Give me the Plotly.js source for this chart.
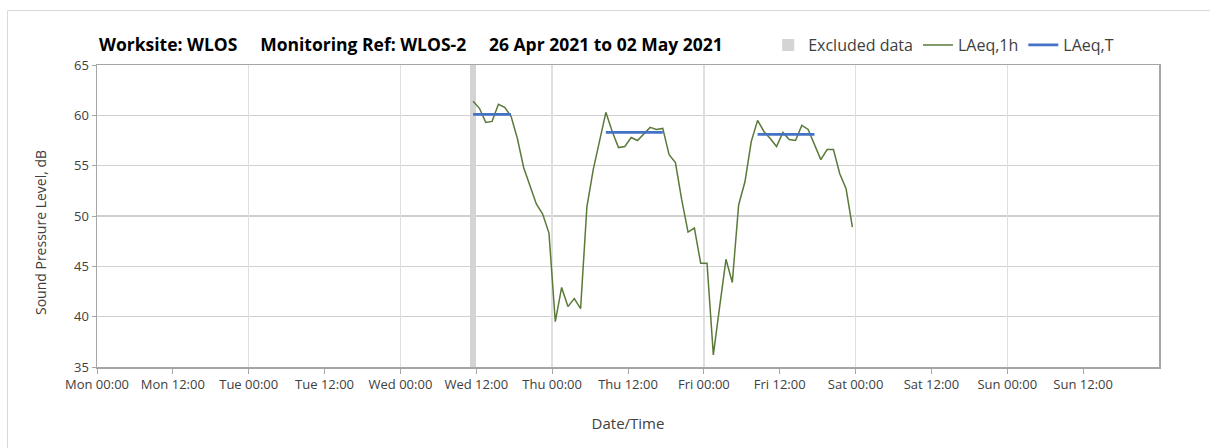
<!DOCTYPE html>
<html>
<head>
<meta charset="utf-8">
<script src="https://cdn.plot.ly/plotly-3.0.1.min.js"></script>
<style>
html,body{margin:0;padding:0;background:#fff;overflow:hidden;}
#chart{width:1210px;height:448px;}
</style>
</head>
<body>
<div id="chart"></div>
<script>
// ---- data ----
const seriesStart = '2021-04-28T11:30:00';   // first hourly LAeq,1h value (Wed 11:30)
const laeq1h = [
  61.4, 60.7, 59.3, 59.4, 61.1, 60.8, 59.9, 57.7, 54.8, 53.1,
  51.2, 50.2, 48.3, 39.5, 42.9, 41.0, 41.8, 40.8, 50.9, 54.6,
  57.6, 60.3, 58.4, 56.8, 56.9, 57.8, 57.5, 58.1, 58.8, 58.6,
  58.7, 56.1, 55.3, 51.6, 48.4, 48.8, 45.3, 45.3, 36.2, 41.0,
  45.7, 43.4, 51.1, 53.4, 57.4, 59.5, 58.4, 57.7, 56.9, 58.3,
  57.6, 57.5, 59.0, 58.6, 57.1, 55.6, 56.6, 56.6, 54.2, 52.7,
  48.9
];
const laeqTStart = ['2021-04-28T11:30:00', '2021-04-29T08:30:00', '2021-04-30T08:30:00'];
const laeqTEnd   = ['2021-04-28T17:30:00', '2021-04-29T17:30:00', '2021-04-30T17:30:00'];
const laeqTValue = [60.1, 58.3, 58.1];
const excludedTime = ['2021-04-28T11:30:00'];
const excludedHours = [1];
const axisRange = ['2021-04-26T00:00:00', '2021-05-03T00:00:00'];
const tickLabels = ['Mon 00:00','Mon 12:00','Tue 00:00','Tue 12:00','Wed 00:00','Wed 12:00','Thu 00:00',
                    'Thu 12:00','Fri 00:00','Fri 12:00','Sat 00:00','Sat 12:00','Sun 00:00','Sun 12:00'];
const yRange = [35, 65];

// ---- build ----
const HOUR = 3600000;
function fmt(ms){
  const d = new Date(ms);
  const p = n => String(n).padStart(2,'0');
  return d.getUTCFullYear()+'-'+p(d.getUTCMonth()+1)+'-'+p(d.getUTCDate())+'T'+p(d.getUTCHours())+':'+p(d.getUTCMinutes())+':00';
}
const t0 = Date.parse(seriesStart + 'Z');
const times = laeq1h.map((v,i) => fmt(t0 + i*HOUR));
const a0 = Date.parse(axisRange[0] + 'Z');
const tickVals = tickLabels.map((s,i) => fmt(a0 + i*12*HOUR));

const tx = [], ty = [];
laeqTValue.forEach((v,i) => {
  tx.push(laeqTStart[i], laeqTEnd[i], null);
  ty.push(v, v, null);
});

const font = 'Open Sans, Lato, sans-serif';
const textCol = '#404040';

const traces = [
  {
    type: 'bar', name: 'Excluded data',
    x: excludedTime, y: excludedHours.map(() => yRange[1]-yRange[0]), base: yRange[0],
    width: excludedHours.map(h => h*HOUR),
    marker: {color: '#d4d4d4', line: {width: 0}},
    hoverinfo: 'skip'
  },
  {
    type: 'scatter', mode: 'lines', name: 'LAeq,1h',
    x: times, y: laeq1h,
    line: {color: '#5a7a3a', width: 1.5}
  },
  {
    type: 'scatter', mode: 'lines', name: 'LAeq,T',
    x: tx, y: ty, xaxis: 'x2',
    line: {color: '#4472c4', width: 2.75},
    connectgaps: false
  }
];

const sp = n => '\u00a0'.repeat(n);
// pixel -> paper helpers for the chart frame
const PL = 97, PW = 1062, PT = 65, PH = 302;
const px = v => (v - PL) / PW;
const py = v => (PT + PH - v) / PH;

const layout = {
  width: 1210, height: 448,
  margin: {l: 97, r: 51, t: 65, b: 81},
  paper_bgcolor: '#fff', plot_bgcolor: '#fff',
  font: {family: font, color: textCol},
  showlegend: true,
  title: {
    text: 'Worksite: WLOS' + sp(5) + 'Monitoring Ref: WLOS-2' + sp(5) + '26 Apr 2021 to 02 May 2021',
    font: {family: font, size: 17.5, color: '#000', weight: 'bold'},
    xref: 'paper', x: px(99), xanchor: 'left',
    yref: 'container', y: 1 - 45/448, yanchor: 'middle'
  },
  legend: {
    orientation: 'h', x: 0.632, xanchor: 'left', y: 1.066, yanchor: 'middle',
    font: {family: font, size: 16, color: textCol},
    bgcolor: 'rgba(0,0,0,0)', traceorder: 'normal'
  },
  bargap: 0,
  xaxis: {
    type: 'date', range: axisRange, fixedrange: true,
    tickmode: 'array', tickvals: tickVals, ticktext: tickLabels,
    ticks: 'outside', ticklen: 5, tickcolor: '#a6a6a6', tickwidth: 1,
    showgrid: false, zeroline: false,
    showline: true, linecolor: '#a6a6a6', linewidth: 1.5, mirror: true,
    tickfont: {family: font, size: 13, color: textCol},
    title: {text: 'Date/Time', font: {family: font, size: 15, color: textCol}, standoff: 26}
  },
  xaxis2: {
    type: 'date', range: axisRange, fixedrange: true, overlaying: 'x', anchor: 'y', side: 'bottom',
    tick0: axisRange[0], dtick: 24*HOUR,
    showgrid: true, gridcolor: '#e0e0e0', gridwidth: 1.3,
    showticklabels: false, ticks: '', showline: false, zeroline: false
  },
  yaxis: {
    range: yRange, fixedrange: true, dtick: 5, tick0: 35,
    ticks: 'outside', ticklen: 4, tickcolor: '#a6a6a6',
    showgrid: true, gridcolor: '#d0d0d0', gridwidth: 1.5, zeroline: false,
    showline: true, linecolor: '#a6a6a6', linewidth: 1.5, mirror: true,
    tickfont: {family: font, size: 13, color: textCol}
  },
  annotations: [{
    text: 'Sound Pressure Level, dB', textangle: -90, showarrow: false,
    xref: 'paper', x: px(40), xanchor: 'center',
    yref: 'paper', y: py(233), yanchor: 'middle',
    font: {family: font, size: 14, color: textCol}
  }],
  shapes: [
    {type: 'line', xref: 'paper', yref: 'paper', x0: px(7.5), x1: px(7.5), y0: py(10.5), y1: py(460),
     line: {color: '#d9d9d9', width: 1}},
    {type: 'line', xref: 'paper', yref: 'paper', x0: px(7.5), x1: px(1230), y0: py(10.5), y1: py(10.5),
     line: {color: '#d9d9d9', width: 1}}
  ]
};

Plotly.newPlot('chart', traces, layout, {displayModeBar: false, staticPlot: true});
</script>
</body>
</html>
